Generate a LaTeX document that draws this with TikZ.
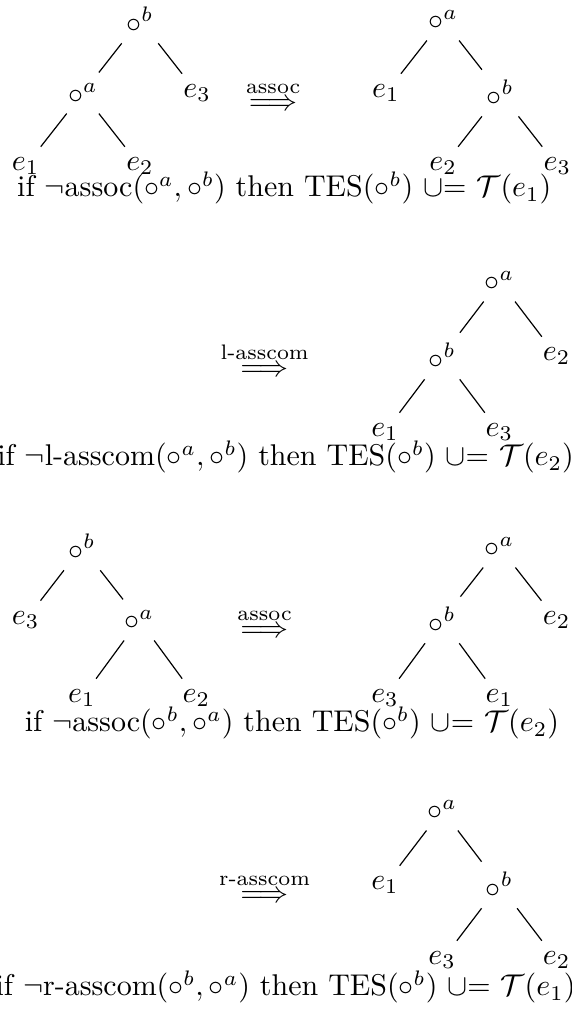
\documentclass[tikz,border=0pt]{standalone}
\usepackage{amsmath,amssymb}
\usepackage{tikz}

\begin{document}
\begin{tikzpicture}[
  op/.style={inner sep=3.33pt},
  lf/.style={inner sep=3.33pt},
  rw/.style={inner sep=0pt},
  cond/.style={inner sep=0pt}
]
  \useasboundingbox (0,0) rectangle (6.690,-11.938);

  % assoc, left operand
  \node[op] (Ab) at (1.64, -0.234) {$\circ^b$};
  \node[op] (Aa) at (0.97, -1.090) {$\circ^a$};
  \node[lf] (Ae3) at (2.31, -1.090) {$e_3$};
  \node[lf] (Ae1) at (0.30, -1.945) {$e_1$};
  \node[lf] (Ae2) at (1.64, -1.945) {$e_2$};
  \draw (Ab) -- (Aa);
  \draw (Ab) -- (Ae3);
  \draw (Aa) -- (Ae1);
  \draw (Aa) -- (Ae2);

  \node[rw] (Ar) at (3.20, -1.125) {$\stackrel{\text{assoc}}{\Longrightarrow}$};

  \node[op] (Ba) at (5.19, -0.234) {$\circ^a$};
  \node[lf] (Be1) at (4.52, -1.090) {$e_1$};
  \node[op] (Bb) at (5.86, -1.090) {$\circ^b$};
  \node[lf] (Be2) at (5.19, -1.945) {$e_2$};
  \node[lf] (Be3) at (6.53, -1.945) {$e_3$};
  \draw (Ba) -- (Be1);
  \draw (Ba) -- (Bb);
  \draw (Bb) -- (Be2);
  \draw (Bb) -- (Be3);

  \node[cond] (Ac) at (3.33, -2.202) {if $\neg$assoc$(\circ^a,\circ^b)$ then TES$(\circ^b)$ $\cup$= $\mathcal{T}(e_1)$};

  % l-asscom
  \node[rw] (Cr) at (3.10, -4.206) {$\stackrel{\text{l-asscom}}{\Longrightarrow}$};

  \node[op] (Ca) at (5.85, -3.292) {$\circ^a$};
  \node[op] (Cb) at (5.18, -4.171) {$\circ^b$};
  \node[lf] (Ce2) at (6.52, -4.171) {$e_2$};
  \node[lf] (Ce1) at (4.51, -5.061) {$e_1$};
  \node[lf] (Ce3) at (5.85, -5.061) {$e_3$};
  \draw (Ca) -- (Cb);
  \draw (Ca) -- (Ce2);
  \draw (Cb) -- (Ce1);
  \draw (Cb) -- (Ce3);

  \node[cond] (Cc) at (3.345, -5.354) {if $\neg$l-asscom$(\circ^a,\circ^b)$ then TES$(\circ^b)$ $\cup$= $\mathcal{T}(e_2)$};

  % assoc, right operand
  \node[op] (Db) at (0.96, -6.408) {$\circ^b$};
  \node[lf] (De3) at (0.30, -7.263) {$e_3$};
  \node[op] (Da) at (1.63, -7.263) {$\circ^a$};
  \node[lf] (De1) at (0.96, -8.177) {$e_1$};
  \node[lf] (De2) at (2.30, -8.177) {$e_2$};
  \draw (Db) -- (De3);
  \draw (Db) -- (Da);
  \draw (Da) -- (De1);
  \draw (Da) -- (De2);

  \node[rw] (Dr) at (3.10, -7.299) {$\stackrel{\text{assoc}}{\Longrightarrow}$};

  \node[op] (Ea) at (5.85, -6.408) {$\circ^a$};
  \node[op] (Eb) at (5.18, -7.263) {$\circ^b$};
  \node[lf] (Ee2) at (6.52, -7.263) {$e_2$};
  \node[lf] (Ee3) at (4.51, -8.177) {$e_3$};
  \node[lf] (Ee1) at (5.85, -8.177) {$e_1$};
  \draw (Ea) -- (Eb);
  \draw (Ea) -- (Ee2);
  \draw (Eb) -- (Ee3);
  \draw (Eb) -- (Ee1);

  \node[cond] (Dc) at (3.42, -8.470) {if $\neg$assoc$(\circ^b,\circ^a)$ then TES$(\circ^b)$ $\cup$= $\mathcal{T}(e_2)$};

  % r-asscom
  \node[rw] (Fr) at (3.10, -10.403) {$\stackrel{\text{r-asscom}}{\Longrightarrow}$};

  \node[op] (Fa) at (5.18, -9.489) {$\circ^a$};
  \node[lf] (Fe1) at (4.51, -10.368) {$e_1$};
  \node[op] (Fb) at (5.85, -10.368) {$\circ^b$};
  \node[lf] (Fe3) at (5.18, -11.247) {$e_3$};
  \node[lf] (Fe2) at (6.52, -11.247) {$e_2$};
  \draw (Fa) -- (Fe1);
  \draw (Fa) -- (Fb);
  \draw (Fb) -- (Fe3);
  \draw (Fb) -- (Fe2);

  \node[cond] (Fc) at (3.345, -11.563) {if $\neg$r-asscom$(\circ^b,\circ^a)$ then TES$(\circ^b)$ $\cup$= $\mathcal{T}(e_1)$};
\end{tikzpicture}
\end{document}
